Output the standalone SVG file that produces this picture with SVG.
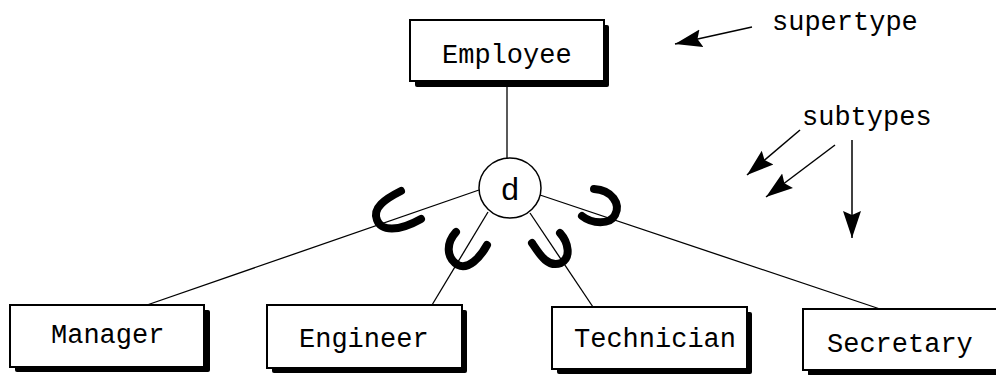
<svg xmlns="http://www.w3.org/2000/svg" width="996" height="375" viewBox="0 0 996 375">
  <style>
    .shadow { fill: #000; }
    .box { fill: #fff; stroke: #000; stroke-width: 2; }
    .lbl { font-family: "Liberation Mono", "DejaVu Sans Mono", monospace; font-size: 27px; fill: #000; }
    .conn { stroke: #000; stroke-width: 1.3; fill: none; }
    .sub { stroke: #000; stroke-width: 8; fill: none; stroke-linecap: round; stroke-linejoin: round; }
    .ann { stroke: #000; stroke-width: 1.5; fill: none; }
  </style>
  <defs>
    <marker id="ah" markerUnits="userSpaceOnUse" viewBox="0 0 28 20" refX="27" refY="10" markerWidth="28" markerHeight="20" orient="auto">
      <path d="M0,1 L27,10 L0,19 L4,10 Z" fill="#000"/>
    </marker>
  </defs>
  <rect width="996" height="375" fill="#fff"/>

  <g id="connectors">
    <line class="conn" x1="507" y1="81" x2="507" y2="160"/>
    <line class="conn" x1="479" y1="190" x2="147" y2="305"/>
    <line class="conn" x1="488" y1="212" x2="432" y2="305"/>
    <line class="conn" x1="530" y1="213" x2="593" y2="307"/>
    <line class="conn" x1="540" y1="195" x2="880" y2="309"/>
    <path class="sub" d="M401,191 C385,199 372,208 377,220 C381,231 398,232 421,219"/>
    <path class="sub" d="M456,232 C446,243 446,258 458,265 C468,270 480,258 487,245"/>
    <path class="sub" d="M532,243 C540,255 548,268 561,263 C571,258 569,243 560,233"/>
    <path class="sub" d="M594,189 C612,190 621,204 615,215 C610,225 592,224 582,216"/>
  </g>

  <g id="employee">
    <rect class="shadow" x="415" y="25" width="194" height="62" rx="2"/>
    <rect class="box" x="410" y="20" width="194" height="61"/>
    <text class="lbl" x="442" y="63">Employee</text>
  </g>

  <g id="d-circle">
    <ellipse cx="510" cy="188" rx="31" ry="30" fill="#fff" stroke="#000" stroke-width="1.5"/>
    <text x="510" y="200" text-anchor="middle" font-family="Liberation Mono, DejaVu Sans Mono, monospace" font-size="32">d</text>
  </g>

  <g id="manager">
    <rect class="shadow" x="15" y="310" width="195" height="62" rx="2"/>
    <rect class="box" x="10" y="305" width="194" height="62"/>
    <text class="lbl" x="51" y="343">Manager</text>
  </g>

  <g id="engineer">
    <rect class="shadow" x="272" y="310" width="195" height="63" rx="2"/>
    <rect class="box" x="267" y="305" width="195" height="63"/>
    <text class="lbl" x="299" y="347">Engineer</text>
  </g>

  <g id="technician">
    <rect class="shadow" x="557" y="312" width="195" height="62" rx="2"/>
    <rect class="box" x="552" y="307" width="195" height="62"/>
    <text class="lbl" x="574" y="347">Technician</text>
  </g>

  <g id="secretary">
    <rect class="shadow" x="808" y="314" width="195" height="62" rx="2"/>
    <rect class="box" x="803" y="309" width="195" height="61"/>
    <text class="lbl" x="827" y="352">Secretary</text>
  </g>

  <g id="annotations">
    <text class="lbl" x="772" y="30">supertype</text>
    <text class="lbl" x="802" y="125">subtypes</text>
    <line class="ann" x1="752" y1="27" x2="675" y2="44" marker-end="url(#ah)"/>
    <line class="ann" x1="800" y1="130" x2="747" y2="175" marker-end="url(#ah)"/>
    <line class="ann" x1="835" y1="145" x2="766" y2="197" marker-end="url(#ah)"/>
    <line class="ann" x1="852" y1="140" x2="852" y2="238" marker-end="url(#ah)"/>
  </g>
</svg>
